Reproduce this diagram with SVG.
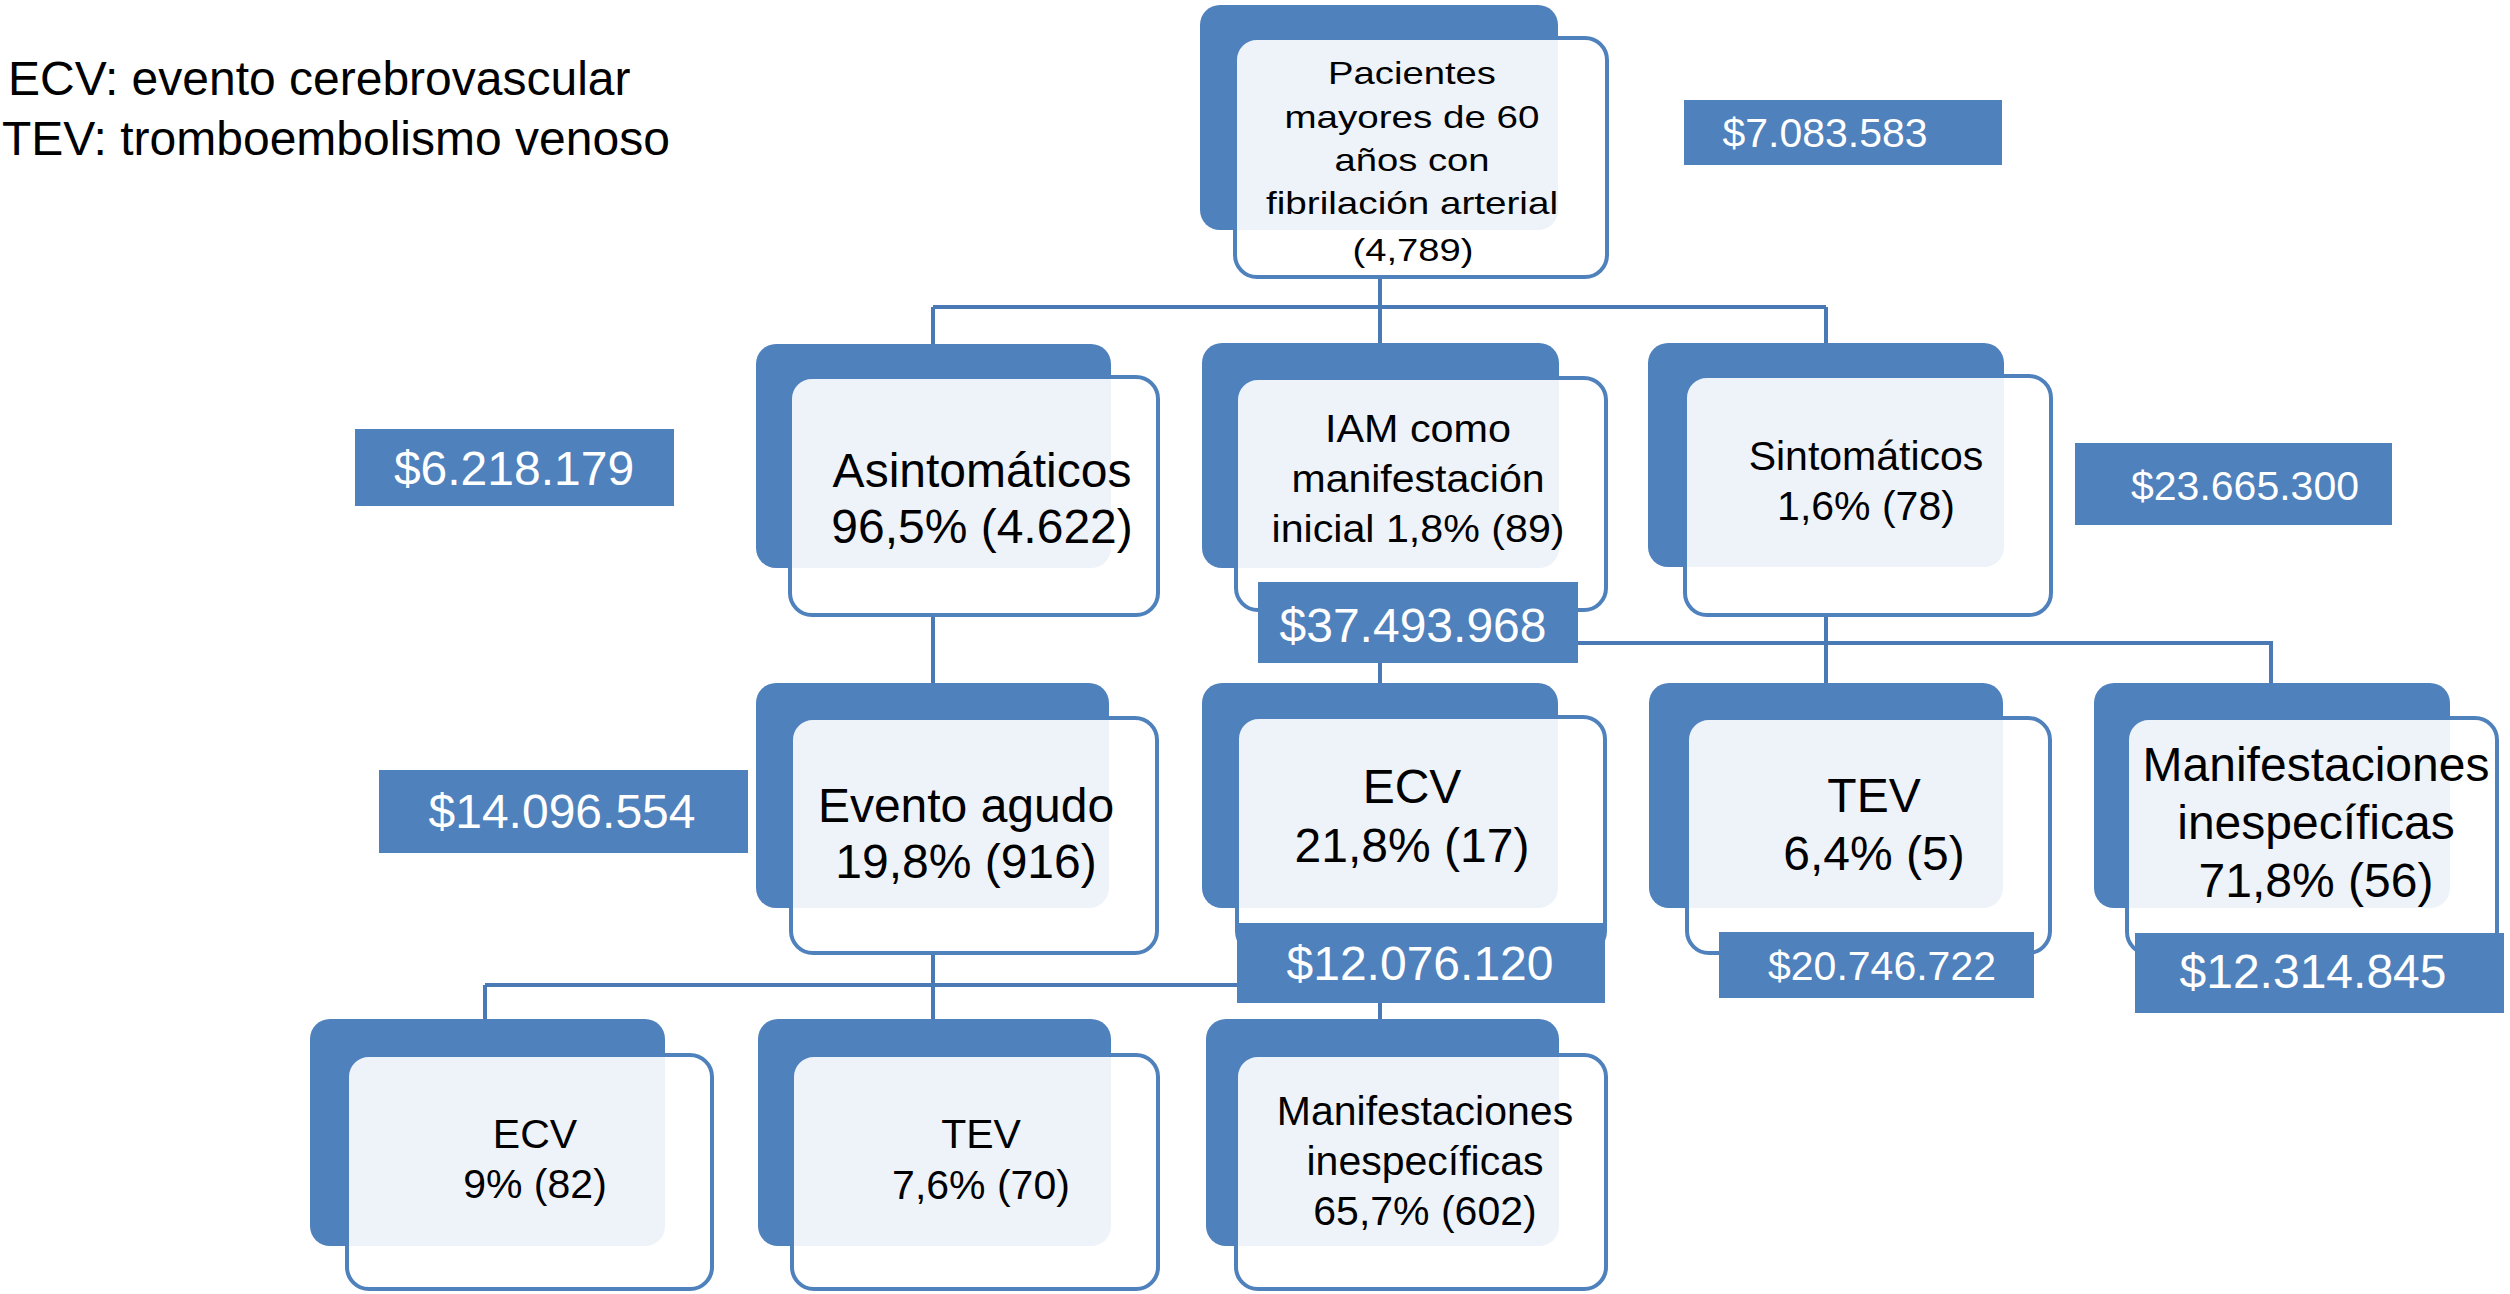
<svg xmlns="http://www.w3.org/2000/svg" width="2510" height="1294" viewBox="0 0 2510 1294">
<style>
.bk{fill:#4f81bd}
.fr{fill:#ffffff;fill-opacity:0.9;stroke:#4f81bd;stroke-width:4}
.mb{fill:#4f81bd}
.t{font-family:"Liberation Sans",Arial,sans-serif;fill:#000;text-anchor:middle}
.w{font-family:"Liberation Sans",Arial,sans-serif;fill:#fff;text-anchor:middle}
.lg{font-family:"Liberation Sans",Arial,sans-serif;fill:#000;font-size:48px}
.f48{font-size:48px}
.f41{font-size:41px}
.f38{font-size:38px}
.f32{font-size:32px}
.cn{fill:none;stroke:#4a7ab6;stroke-width:4}
</style>
<rect width="2510" height="1294" fill="#fff"/>
<g id="legend">
<text class="lg" x="8" y="95">ECV: evento cerebrovascular</text>
<text class="lg" x="2" y="155">TEV: tromboembolismo venoso</text>
</g>
<g id="connectors">
<path class="cn" d="M1380 277V307M933 307H1826M933 307V345M1380 307V345M1826 307V345"/>
<path class="cn" d="M933 615V685M1826 615V685M1380 643H2271V685M1380 643V685"/>
<path class="cn" d="M933 953V1021M485 985H1380M485 985V1021M1380 985V1021"/>
</g>
<g id="n-pacientes">
<rect class="bk" x="1200" y="5" width="358" height="225" rx="20"/>
<rect class="fr" x="1235" y="38" width="372" height="239" rx="22"/>
<text class="t f32" x="1412" y="84" textLength="168" lengthAdjust="spacingAndGlyphs">Pacientes</text>
<text class="t f32" x="1412" y="128" textLength="255" lengthAdjust="spacingAndGlyphs">mayores de 60</text>
<text class="t f32" x="1412" y="171" textLength="155" lengthAdjust="spacingAndGlyphs">años con</text>
<text class="t f32" x="1412" y="214" textLength="292" lengthAdjust="spacingAndGlyphs">fibrilación arterial</text>
<text class="t f32" x="1413" y="261" textLength="121" lengthAdjust="spacingAndGlyphs">(4,789)</text>
</g>
<g id="c-7083583">
<rect class="mb" x="1684" y="100" width="318" height="65"/>
<text class="w f41" x="1825" y="147">$7.083.583</text>
</g>
<g id="n-asintomaticos">
<rect class="bk" x="756" y="344" width="355" height="224" rx="20"/>
<rect class="fr" x="790" y="377" width="368" height="238" rx="22"/>
<text class="t f48" x="982" y="487">Asintomáticos</text>
<text class="t f48" x="982" y="543">96,5% (4.622)</text>
</g>
<g id="c-6218179">
<rect class="mb" x="355" y="429" width="319" height="77"/>
<text class="w f48" x="514" y="485">$6.218.179</text>
</g>
<g id="n-iam">
<rect class="bk" x="1202" y="343" width="357" height="225" rx="20"/>
<rect class="fr" x="1236" y="378" width="370" height="232" rx="22"/>
<text class="t f38" x="1418" y="442" textLength="186" lengthAdjust="spacingAndGlyphs">IAM como</text>
<text class="t f38" x="1418" y="492" textLength="253" lengthAdjust="spacingAndGlyphs">manifestación</text>
<text class="t f38" x="1418" y="542" textLength="293" lengthAdjust="spacingAndGlyphs">inicial 1,8% (89)</text>
</g>
<g id="c-37493968">
<rect class="mb" x="1258" y="582" width="320" height="81"/>
<text class="w f48" x="1413" y="642">$37.493.968</text>
</g>
<g id="n-sintomaticos">
<rect class="bk" x="1648" y="343" width="356" height="224" rx="20"/>
<rect class="fr" x="1685" y="376" width="366" height="239" rx="22"/>
<text class="t f41" x="1866" y="470">Sintomáticos</text>
<text class="t f41" x="1866" y="520">1,6% (78)</text>
</g>
<g id="c-23665300">
<rect class="mb" x="2075" y="443" width="317" height="82"/>
<text class="w f41" x="2245" y="500">$23.665.300</text>
</g>
<g id="n-evento">
<rect class="bk" x="756" y="683" width="353" height="225" rx="20"/>
<rect class="fr" x="791" y="718" width="366" height="235" rx="22"/>
<text class="t f48" x="966" y="822">Evento agudo</text>
<text class="t f48" x="966" y="878">19,8% (916)</text>
</g>
<g id="c-14096554">
<rect class="mb" x="379" y="770" width="369" height="83"/>
<text class="w f48" x="562" y="828">$14.096.554</text>
</g>
<g id="n-ecv3">
<rect class="bk" x="1202" y="683" width="356" height="225" rx="20"/>
<rect class="fr" x="1237" y="717" width="368" height="236" rx="22"/>
<text class="t f48" x="1412" y="803">ECV</text>
<text class="t f48" x="1412" y="862">21,8% (17)</text>
</g>
<g id="c-12076120">
<rect class="mb" x="1237" y="923" width="368" height="80"/>
<text class="w f48" x="1420" y="980">$12.076.120</text>
</g>
<g id="n-tev3">
<rect class="bk" x="1649" y="683" width="354" height="225" rx="20"/>
<rect class="fr" x="1687" y="718" width="363" height="235" rx="22"/>
<text class="t f48" x="1874" y="812">TEV</text>
<text class="t f48" x="1874" y="870">6,4% (5)</text>
</g>
<g id="c-20746722">
<rect class="mb" x="1719" y="932" width="315" height="66"/>
<text class="w f41" x="1882" y="980">$20.746.722</text>
</g>
<g id="n-manif3">
<rect class="bk" x="2094" y="683" width="356" height="225" rx="20"/>
<rect class="fr" x="2127" y="718" width="370" height="236" rx="22"/>
<text class="t f48" x="2316" y="781">Manifestaciones</text>
<text class="t f48" x="2316" y="839">inespecíficas</text>
<text class="t f48" x="2316" y="897">71,8% (56)</text>
</g>
<g id="c-12314845">
<rect class="mb" x="2135" y="933" width="369" height="80"/>
<text class="w f48" x="2313" y="988">$12.314.845</text>
</g>
<g id="n-ecv4">
<rect class="bk" x="310" y="1019" width="355" height="227" rx="20"/>
<rect class="fr" x="347" y="1055" width="365" height="234" rx="22"/>
<text class="t f41" x="535" y="1148">ECV</text>
<text class="t f41" x="535" y="1198">9% (82)</text>
</g>
<g id="n-tev4">
<rect class="bk" x="758" y="1019" width="353" height="227" rx="20"/>
<rect class="fr" x="792" y="1055" width="366" height="234" rx="22"/>
<text class="t f41" x="981" y="1148">TEV</text>
<text class="t f41" x="981" y="1199">7,6% (70)</text>
</g>
<g id="n-manif4">
<rect class="bk" x="1206" y="1019" width="353" height="227" rx="20"/>
<rect class="fr" x="1236" y="1055" width="370" height="234" rx="22"/>
<text class="t f41" x="1425" y="1125">Manifestaciones</text>
<text class="t f41" x="1425" y="1175">inespecíficas</text>
<text class="t f41" x="1425" y="1225">65,7% (602)</text>
</g>
</svg>
